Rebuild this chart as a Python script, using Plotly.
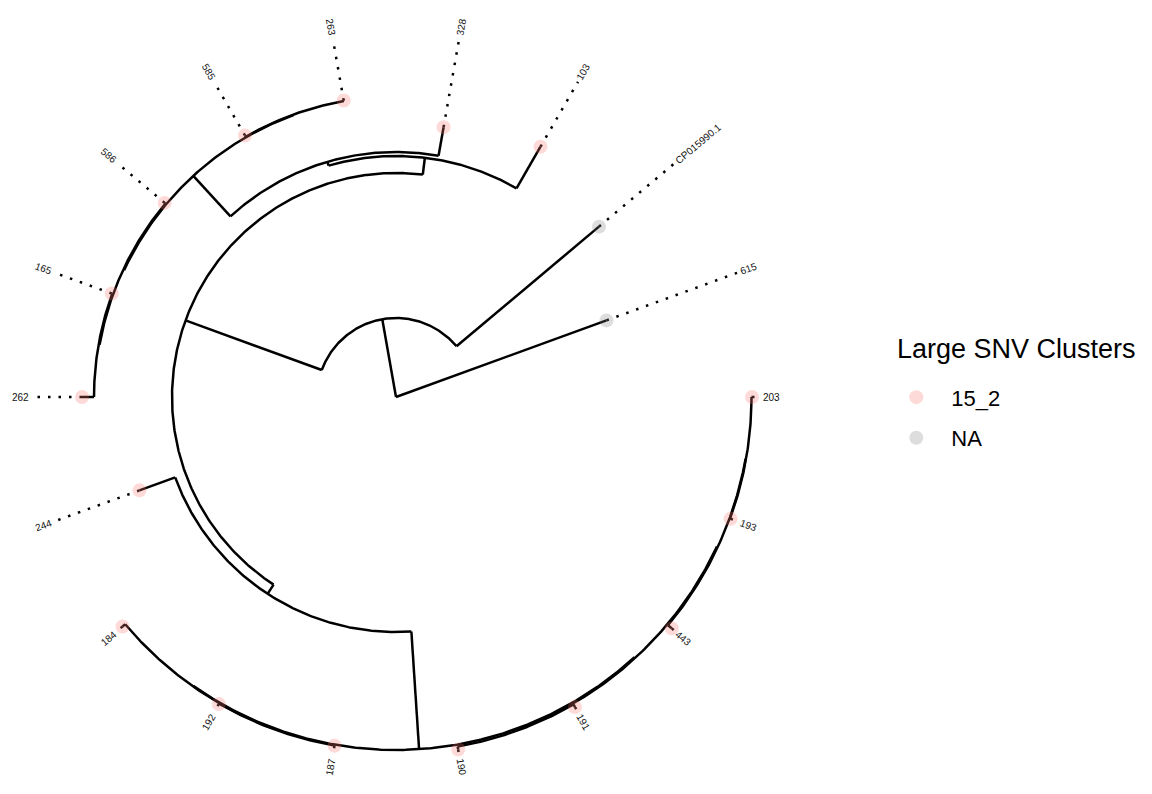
import numpy as np
import plotly.graph_objects as go

# ---- Tree (edge list, branch lengths in tree units) ----
edge_parent = ["root", "root", "n1", "n1", "n2", "n3", "n3", "n4", "n4", "n5", "n6", "n6",
               "n5", "n7", "n7", "n8", "n8", "n2", "n9", "n9", "n10", "n11", "n11", "n12",
               "n12", "n10", "n13", "n14", "n14", "n13", "n15", "n15", "n16", "n16"]
edge_child = ["615", "n1", "CP015990.1", "n2", "n3", "103", "n4", "328", "n5", "n6", "263", "585",
              "n7", "586", "n8", "165", "262", "n9", "244", "n10", "n11", "184", "n12", "192",
              "187", "n13", "n14", "190", "191", "n15", "443", "n16", "193", "203"]
edge_length = [2.24, 0.79, 1.86, 1.45, 0.17, 0.48, 0.04, 0.29, 0.55, 0.005, 0.005, 0.015,
               0.01, 0.01, 0.01, 0.005, 0.12, 0.11, 0.38, 1.18, 0.005, 0.035, 0.005, 0.005,
               0.002, 0.01, 0.01, 0.03, 0.03, 0.01, 0.05, 0.005, 0.005, 0.005]

# ---- Tip metadata ----
tip_names = ["615", "CP015990.1", "103", "328", "263", "585", "586", "165", "262",
             "244", "184", "192", "187", "190", "191", "443", "193", "203"]
tip_cluster = ["NA", "NA", "15_2", "15_2", "15_2", "15_2", "15_2", "15_2", "15_2",
               "15_2", "15_2", "15_2", "15_2", "15_2", "15_2", "15_2", "15_2", "15_2"]

cluster_levels = ["15_2", "NA"]
cluster_colors = {"15_2": "rgba(248,118,109,0.27)", "NA": "rgba(120,120,120,0.25)"}
legend_title = "Large SNV Clusters"

FONT = "Liberation Sans, Arial, Helvetica, sans-serif"

# ---- Layout of the circular tree ----
children = {}
for p, c, l in zip(edge_parent, edge_child, edge_length):
    children.setdefault(p, []).append((c, l))

depth = {"root": 0.0}
order = []


def walk(node):
    for c, l in children.get(node, []):
        depth[c] = depth[node] + l
        if c in children:
            walk(c)
        else:
            order.append(c)


walk("root")
n_tips = len(order)
angle = {name: 360.0 * (k + 1) / n_tips for k, name in enumerate(order)}


def set_angle(node):
    if node not in children:
        return angle[node]
    kids = [set_angle(c) for c, _ in children[node]]
    angle[node] = (kids[0] + kids[-1]) / 2.0
    return angle[node]


set_angle("root")


def pol(r, deg):
    t = np.radians(deg)
    return r * np.cos(t), r * np.sin(t)


# branch segments: radial pieces + arcs at each internal node
bx, by = [], []
for p, c, _ in zip(edge_parent, edge_child, edge_length):
    x0, y0 = pol(depth[p], angle[c])
    x1, y1 = pol(depth[c], angle[c])
    bx += [x0, x1, None]
    by += [y0, y1, None]
for node, kids in children.items():
    a0 = angle[kids[0][0]]
    a1 = angle[kids[-1][0]]
    npts = max(2, int(abs(a1 - a0) * 3))
    th = np.linspace(a0, a1, npts)
    xs, ys = pol(depth[node], th)
    bx += list(xs) + [None]
    by += list(ys) + [None]

max_depth = max(depth[t] for t in tip_names)
line_end = max_depth + 0.04
text_start = max_depth + 0.07

# dotted guide lines to aligned labels
dx, dy = [], []
for t in tip_names:
    x0, y0 = pol(depth[t], angle[t])
    x1, y1 = pol(line_end, angle[t])
    dx += [x0, x1, None]
    dy += [y0, y1, None]

fig = go.Figure()
fig.add_trace(go.Scatter(x=dx, y=dy, mode="lines", hoverinfo="skip", showlegend=False,
                         line=dict(color="black", width=2.5, dash="2.5px,8px")))
fig.add_trace(go.Scatter(x=bx, y=by, mode="lines", hoverinfo="skip", showlegend=False,
                         line=dict(color="black", width=2.5)))

for k, lev in enumerate(cluster_levels):
    names = [t for t, g in zip(tip_names, tip_cluster) if g == lev]
    px = [pol(depth[t], angle[t])[0] for t in names]
    py = [pol(depth[t], angle[t])[1] for t in names]
    fig.add_trace(go.Scatter(x=px, y=py, mode="markers", name=lev, legendgroup=lev,
                             text=names, hoverinfo="text",
                             marker=dict(size=14, color=cluster_colors[lev], line=dict(width=0))))

# rotated tip labels
char_w = {"C": 0.722, "P": 0.667, ".": 0.278}
label_fs = 10
for t in tip_names:
    th = angle[t] % 360
    w = sum(char_w.get(ch, 0.556) for ch in t) * label_fs / 100.0
    rc = text_start + w / 2.0
    cx, cy = pol(rc, th)
    if 90 < th < 270:
        rot = 180 - th
    else:
        rot = -th
    rot = (rot + 180) % 360 - 180
    fig.add_annotation(x=cx, y=cy, text=t, showarrow=False, textangle=rot,
                       xanchor="center", yanchor="middle", borderpad=0,
                       font=dict(size=label_fs, color="#111111", family=FONT))

# legend heading
fig.add_annotation(xref="paper", yref="paper", x=0.7769, y=0.5605, text=legend_title,
                   showarrow=False, xanchor="left", yanchor="middle",
                   font=dict(size=27, color="black", family=FONT))

fig.update_layout(
    width=1152, height=794,
    margin=dict(l=0, r=0, t=0, b=0),
    paper_bgcolor="white", plot_bgcolor="white",
    xaxis=dict(visible=False, range=[-3.96, 7.56], domain=[0, 1]),
    yaxis=dict(visible=False, range=[-3.97, 3.97], domain=[0, 1]),
    showlegend=True,
    legend=dict(x=0.765, y=0.526, xanchor="left", yanchor="top",
                bgcolor="rgba(0,0,0,0)", tracegroupgap=9, itemwidth=60,
                font=dict(size=22, color="black", family=FONT)),
)

fig.write_html("out.html")
